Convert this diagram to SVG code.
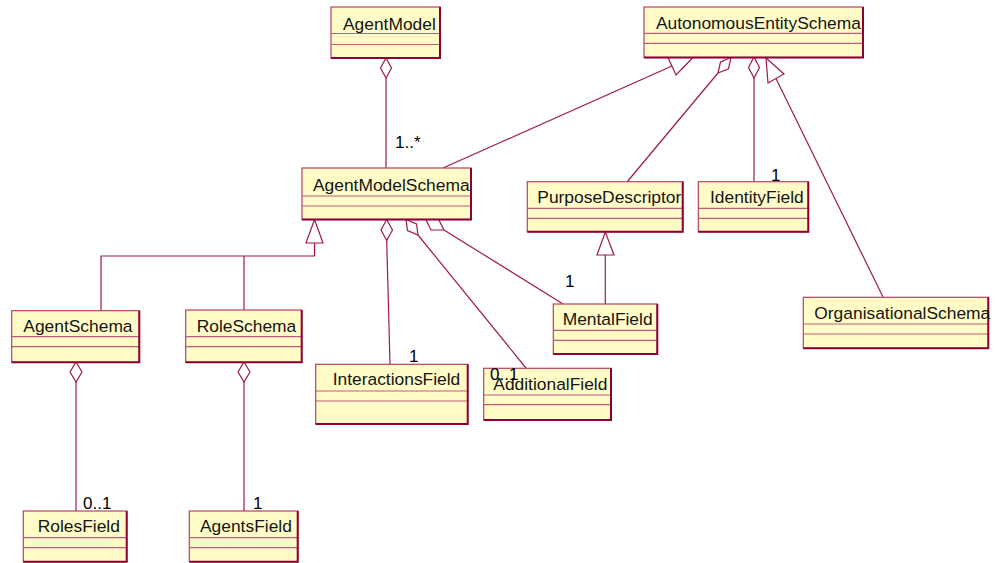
<svg xmlns="http://www.w3.org/2000/svg" width="998" height="563" viewBox="0 0 998 563">
<style>
.bx{fill:#fffcc8;stroke:#b8406a;stroke-width:1.2}
.sh{fill:none;stroke:#8e0033;stroke-width:2}
.dv{stroke:#c05a7c;stroke-width:1.2}
.nm{font-family:"Liberation Sans",Arial,sans-serif;font-size:17.4px;fill:#151515}
.lb{font-family:"Liberation Sans",Arial,sans-serif;font-size:17px;fill:#000}
.ln{fill:none;stroke:#a01848;stroke-width:1.2}
.hd{fill:#fff;stroke:#a01848;stroke-width:1.2}
</style>
<rect width="998" height="563" fill="#fff"/>
<g id="connectors">
<polygon class="hd" points="386,58 391.5,68 386,78 380.5,68"/>
<line class="ln" x1="386" y1="78" x2="386" y2="168"/>
<line class="ln" x1="443" y1="168" x2="672" y2="66"/>
<polygon class="hd" points="694,56.5 676,75 668,57.5"/>
<line class="ln" x1="627" y1="182" x2="718" y2="73"/>
<polygon class="hd" points="718,73 728.5,68.7 731,57.5 720.5,62"/>
<polygon class="hd" points="754,57 759.5,67.5 754,78 748.5,67.5"/>
<line class="ln" x1="754" y1="78" x2="754" y2="182"/>
<line class="ln" x1="776" y1="78.5" x2="883" y2="297"/>
<polygon class="hd" points="766,58 784,74 768,83"/>
<polygon class="hd" points="314.5,219.5 323,243 306,243"/>
<polyline class="ln" points="314.5,243 314.5,256 101,256 101,311"/>
<line class="ln" x1="244" y1="256" x2="244" y2="310"/>
<polygon class="hd" points="386.7,219.5 392.5,230 386.7,240.5 381,230"/>
<line class="ln" x1="386.7" y1="240.5" x2="390" y2="364"/>
<polygon class="hd" points="418,235 416.5,224 406,219.5 407.5,230.5"/>
<line class="ln" x1="418" y1="235" x2="526" y2="368"/>
<polygon class="hd" points="444,230 438.1,218.4 425.3,218.5 431,230"/>
<line class="ln" x1="444" y1="230" x2="563" y2="304"/>
<polygon class="hd" points="605.3,232 614,255 597,255"/>
<line class="ln" x1="605.3" y1="255" x2="605.3" y2="304"/>
<polygon class="hd" points="76,362 82,372 76,382 70,372"/>
<line class="ln" x1="76" y1="382" x2="76" y2="511"/>
<polygon class="hd" points="244,362 250,372 244,382 238,372"/>
<line class="ln" x1="244" y1="382" x2="244" y2="511"/>
<text class="lb" x="395" y="148">1..*</text>
<text class="lb" x="771" y="181">1</text>
<text class="lb" x="565" y="287">1</text>
<text class="lb" x="409" y="362">1</text>
<text class="lb" x="83" y="509">0..1</text>
<text class="lb" x="253" y="509">1</text>
</g>
<g id="AgentModel">
<rect class="bx" x="331" y="7" width="109" height="51"/>
<line class="dv" x1="331" y1="33.5" x2="440" y2="33.5"/><line class="dv" x1="331" y1="44.5" x2="440" y2="44.5"/>
<polyline class="sh" points="440,7 440,58 331,58"/>
<text class="nm" x="343" y="29.5">AgentModel</text>
</g>
<g id="AutonomousEntitySchema">
<rect class="bx" x="644" y="7" width="219" height="50.5"/>
<line class="dv" x1="644" y1="33.3" x2="863" y2="33.3"/><line class="dv" x1="644" y1="43.3" x2="863" y2="43.3"/>
<polyline class="sh" points="863,7 863,57.5 644,57.5"/>
<text class="nm" x="656" y="28.5">AutonomousEntitySchema</text>
</g>
<g id="AgentModelSchema">
<rect class="bx" x="302" y="168" width="169" height="51.5"/>
<line class="dv" x1="302" y1="196" x2="471" y2="196"/><line class="dv" x1="302" y1="206" x2="471" y2="206"/>
<polyline class="sh" points="471,168 471,219.5 302,219.5"/>
<text class="nm" x="313" y="190.5">AgentModelSchema</text>
</g>
<g id="PurposeDescriptor">
<rect class="bx" x="527.3" y="181.7" width="155.4" height="50"/>
<line class="dv" x1="527.3" y1="208.3" x2="682.7" y2="208.3"/><line class="dv" x1="527.3" y1="218.3" x2="682.7" y2="218.3"/>
<polyline class="sh" points="682.7,181.7 682.7,231.7 527.3,231.7"/>
<text class="nm" x="537.3" y="203.3">PurposeDescriptor</text>
</g>
<g id="IdentityField">
<rect class="bx" x="698.3" y="181.7" width="110" height="50"/>
<line class="dv" x1="698.3" y1="208.3" x2="808.3" y2="208.3"/><line class="dv" x1="698.3" y1="218.3" x2="808.3" y2="218.3"/>
<polyline class="sh" points="808.3,181.7 808.3,231.7 698.3,231.7"/>
<text class="nm" x="710" y="203.3">IdentityField</text>
</g>
<g id="OrganisationalSchema">
<rect class="bx" x="803.3" y="297.3" width="185" height="51"/>
<line class="dv" x1="803.3" y1="324" x2="988.3" y2="324"/><line class="dv" x1="803.3" y1="334" x2="988.3" y2="334"/>
<polyline class="sh" points="988.3,297.3 988.3,348.3 803.3,348.3"/>
<text class="nm" x="814.3" y="319.3">OrganisationalSchema</text>
</g>
<g id="MentalField">
<rect class="bx" x="553.3" y="304" width="104" height="50"/>
<line class="dv" x1="553.3" y1="330.3" x2="657.3" y2="330.3"/><line class="dv" x1="553.3" y1="340.3" x2="657.3" y2="340.3"/>
<polyline class="sh" points="657.3,304 657.3,354 553.3,354"/>
<text class="nm" x="562.7" y="325">MentalField</text>
</g>
<g id="InteractionsField">
<rect class="bx" x="315.7" y="364.3" width="152" height="59.7"/>
<line class="dv" x1="315.7" y1="391" x2="467.7" y2="391"/><line class="dv" x1="315.7" y1="401" x2="467.7" y2="401"/>
<polyline class="sh" points="467.7,364.3 467.7,424 315.7,424"/>
<text class="nm" x="332.7" y="385">InteractionsField</text>
</g>
<g id="AdditionalField">
<rect class="bx" x="483.7" y="368.3" width="127.3" height="51.7"/>
<line class="dv" x1="483.7" y1="395" x2="611" y2="395"/><line class="dv" x1="483.7" y1="404.7" x2="611" y2="404.7"/>
<polyline class="sh" points="611,368.3 611,420 483.7,420"/>
<text class="nm" x="493.3" y="390">AdditionalField</text>
<text class="lb" x="490" y="380">0..1</text>
</g>
<g id="AgentSchema">
<rect class="bx" x="11.7" y="310.7" width="127.6" height="51.6"/>
<line class="dv" x1="11.7" y1="336.7" x2="139.3" y2="336.7"/><line class="dv" x1="11.7" y1="346.7" x2="139.3" y2="346.7"/>
<polyline class="sh" points="139.3,310.7 139.3,362.3 11.7,362.3"/>
<text class="nm" x="23.3" y="331.7">AgentSchema</text>
</g>
<g id="RoleSchema">
<rect class="bx" x="185.7" y="310" width="116" height="52.3"/>
<line class="dv" x1="185.7" y1="336.7" x2="301.7" y2="336.7"/><line class="dv" x1="185.7" y1="346.7" x2="301.7" y2="346.7"/>
<polyline class="sh" points="301.7,310 301.7,362.3 185.7,362.3"/>
<text class="nm" x="196.7" y="331.7">RoleSchema</text>
</g>
<g id="RolesField">
<rect class="bx" x="23.3" y="511" width="103.4" height="50.7"/>
<line class="dv" x1="23.3" y1="537.7" x2="126.7" y2="537.7"/><line class="dv" x1="23.3" y1="547.7" x2="126.7" y2="547.7"/>
<polyline class="sh" points="126.7,511 126.7,561.7 23.3,561.7"/>
<text class="nm" x="37.7" y="532.3">RolesField</text>
</g>
<g id="AgentsField">
<rect class="bx" x="189.3" y="511" width="108.4" height="50.7"/>
<line class="dv" x1="189.3" y1="537.7" x2="297.7" y2="537.7"/><line class="dv" x1="189.3" y1="547.7" x2="297.7" y2="547.7"/>
<polyline class="sh" points="297.7,511 297.7,561.7 189.3,561.7"/>
<text class="nm" x="200" y="532.3">AgentsField</text>
</g>
</svg>
